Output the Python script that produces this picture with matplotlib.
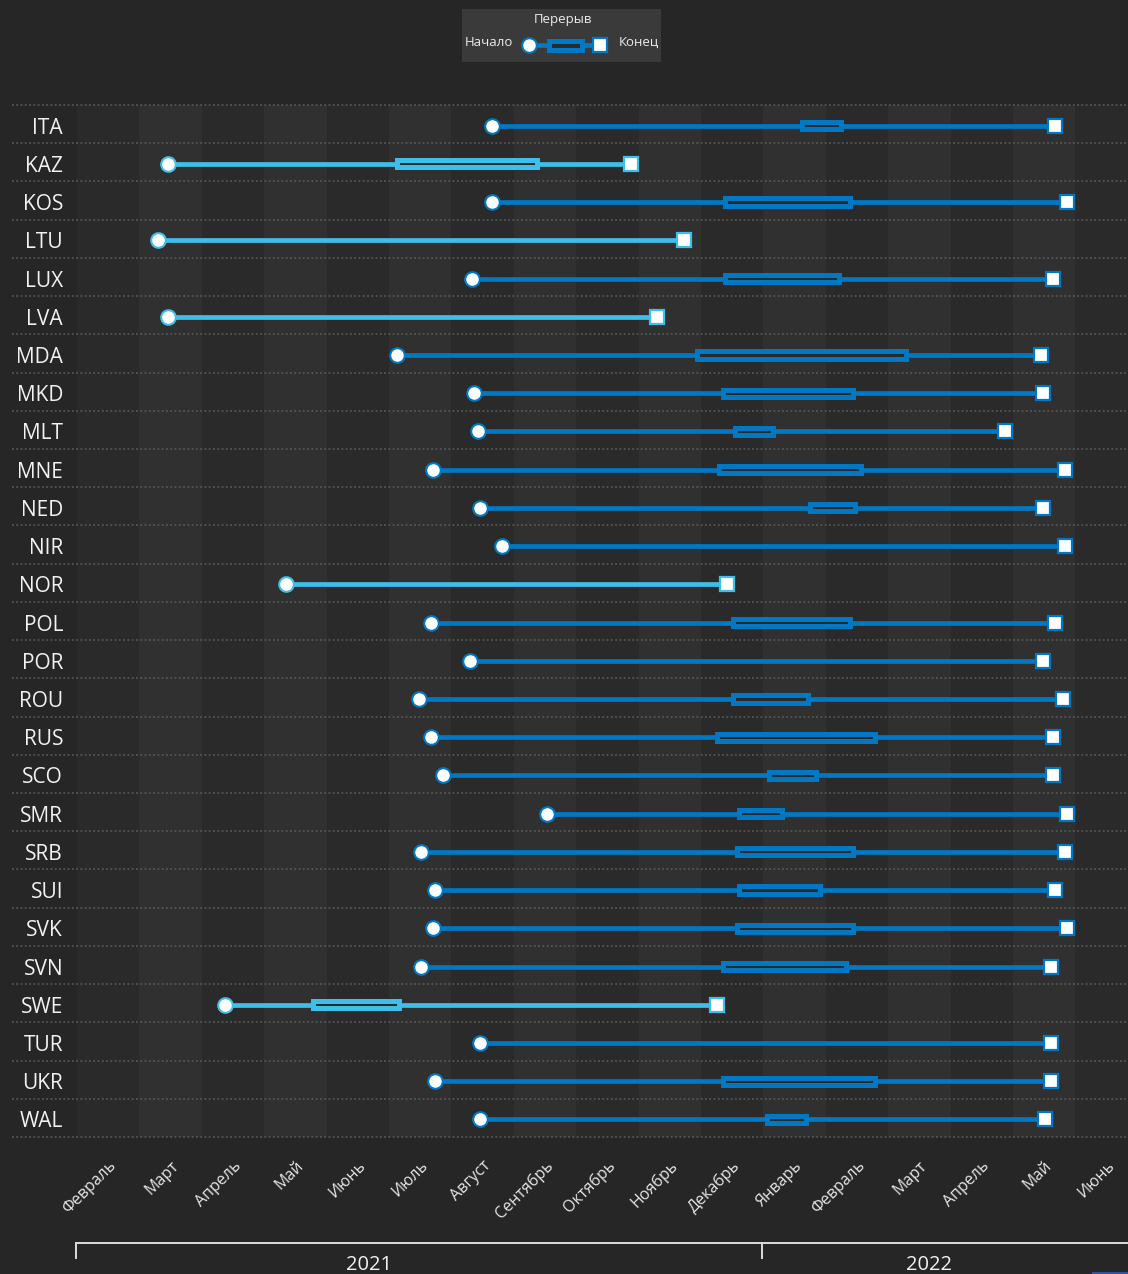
import matplotlib
matplotlib.use('Agg')
import matplotlib.pyplot as plt
from matplotlib.patches import Rectangle
from matplotlib.lines import Line2D
from matplotlib.transforms import blended_transform_factory
import pandas as pd

plt.rcParams['font.family'] = ['Open Sans', 'DejaVu Sans']

teams = ['ITA', 'KAZ', 'KOS', 'LTU', 'LUX', 'LVA', 'MDA', 'MKD', 'MLT', 'MNE', 'NED', 'NIR', 'NOR', 'POL',
         'POR', 'ROU', 'RUS', 'SCO', 'SMR', 'SRB', 'SUI', 'SVK', 'SVN', 'SWE', 'TUR', 'UKR', 'WAL']

season_start = ['2021-08-21', '2021-03-15', '2021-08-21', '2021-03-10', '2021-08-11', '2021-03-15', '2021-07-05',
                '2021-08-12', '2021-08-14', '2021-07-23', '2021-08-15', '2021-08-26', '2021-05-12', '2021-07-22',
                '2021-08-10', '2021-07-16', '2021-07-22', '2021-07-28', '2021-09-17', '2021-07-17', '2021-07-24',
                '2021-07-23', '2021-07-17', '2021-04-12', '2021-08-15', '2021-07-24', '2021-08-15']

season_end = ['2022-05-22', '2021-10-28', '2022-05-28', '2021-11-23', '2022-05-21', '2021-11-10', '2022-05-15',
              '2022-05-16', '2022-04-27', '2022-05-27', '2022-05-16', '2022-05-27', '2021-12-14', '2022-05-22',
              '2022-05-16', '2022-05-26', '2022-05-21', '2022-05-21', '2022-05-28', '2022-05-27', '2022-05-22',
              '2022-05-28', '2022-05-20', '2021-12-09', '2022-05-20', '2022-05-20', '2022-05-17']

break_start = ['2022-01-20', '2021-07-05', '2021-12-13', None, '2021-12-13', None, '2021-11-29',
               '2021-12-12', '2021-12-18', '2021-12-10', '2022-01-24', None, None, '2021-12-17',
               None, '2021-12-17', '2021-12-09', '2022-01-04', '2021-12-20', '2021-12-19', '2021-12-20',
               '2021-12-19', '2021-12-12', '2021-05-25', None, '2021-12-12', '2022-01-03']

break_end = ['2022-02-08', '2021-09-12', '2022-02-12', None, '2022-02-07', None, '2022-03-10',
             '2022-02-13', '2022-01-06', '2022-02-17', '2022-02-14', None, None, '2022-02-12',
             None, '2022-01-23', '2022-02-23', '2022-01-27', '2022-01-10', '2022-02-13', '2022-01-29',
             '2022-02-13', '2022-02-10', '2021-07-06', None, '2022-02-23', '2022-01-22']

months = ['Февраль', 'Март', 'Апрель', 'Май', 'Июнь', 'Июль', 'Август', 'Сентябрь', 'Октябрь', 'Ноябрь',
          'Декабрь', 'Январь', 'Февраль', 'Март', 'Апрель', 'Май', 'Июнь']
years = ['2021', '2022']
year_start_month = [0, 11]
year_label_pos = [4.68, 13.65]

DARK = '#0078c4'
LIGHT = '#3dbfeb'
BG = '#262626'


def mpos(s):
    # position in months from 1 Feb 2021 (each month has equal width)
    t = pd.Timestamp(s)
    return (t.year - 2021) * 12 + t.month - 2 + (t.day - 1) / t.days_in_month


W, H = 1128, 1274
fig = plt.figure(figsize=(W / 100, H / 100), dpi=100, facecolor=BG)
ax = fig.add_axes([77 / W, 1 - 1137 / H, 1 - 77 / W, (1137 - 105) / H])
ax.set_facecolor(BG)
for s in ax.spines.values():
    s.set_visible(False)

# rows sit a little below the middle of their band
d = 0.04
xmax = (W - 77) / 62.4
ax.set_xlim(0, xmax)
ax.set_ylim(len(teams) - 0.5 - d, -0.5 - d)

# month bands
for k in range(len(months)):
    ax.axvspan(k, k + 1, color='#2a2a2a' if k % 2 == 0 else '#303030', lw=0, zorder=0)

# dotted row separators, running into the label area
tr = blended_transform_factory(fig.transFigure, ax.transData)
for i in range(len(teams) + 1):
    ax.plot([12 / W, 1], [i - 0.5 - d, i - 0.5 - d], transform=tr, color='#5c5c5c', lw=1.1,
            ls=(0, (1.2, 1.6)), clip_on=False, zorder=1)

for i, team in enumerate(teams):
    s = mpos(season_start[i])
    e = mpos(season_end[i])
    c = LIGHT if pd.Timestamp(season_end[i]).year == 2021 else DARK
    ax.plot([s, e], [i, i], color=c, lw=3.4, solid_capstyle='butt', zorder=3)
    if break_start[i] is not None:
        b0 = mpos(break_start[i])
        b1 = mpos(break_end[i])
        ax.add_patch(Rectangle((b0, i - 0.095), b1 - b0, 0.19, facecolor='#2a2a2a', edgecolor=c,
                               lw=3.6, zorder=4))
    ax.plot(s, i, 'o', ms=10.5, mfc='white', mec=c, mew=1.5, zorder=5)
    ax.plot(e, i, 's', ms=9.4, mfc='white', mec=c, mew=1.6, zorder=5)

ax.set_yticks(range(len(teams)))
ax.set_yticklabels(teams, fontsize=15, color='#f2f2f2')
ax.tick_params(axis='y', length=0, pad=10)

ax.set_xticks([k + 0.5 for k in range(len(months))])
ax.set_xticklabels(months, rotation=45, ha='right', va='top', rotation_mode='anchor',
                   fontsize=11.5, color='#e6e6e6')
ax.tick_params(axis='x', length=0, pad=15)

# year axis
ty = blended_transform_factory(ax.transData, fig.transFigure)
yl = 1 - 1243 / H
ax.plot([-0.02, xmax], [yl, yl], transform=ty, color='#dcdcdc', lw=1.4, clip_on=False)
for k in year_start_month:
    ax.plot([k - 0.02, k - 0.02], [yl, 1 - 1258 / H], transform=ty, color='#dcdcdc', lw=1.4,
            clip_on=False)
for lab, xp in zip(years, year_label_pos):
    ax.text(xp, 1 - 1265 / H, lab, transform=ty, ha='center', va='center', fontsize=14.5,
            color='#f2f2f2', clip_on=False)


# legend box (drawn in pixel positions of the figure)
def fx(x):
    return x / W


def fy(y):
    return 1 - y / H


fig.patches.append(Rectangle((fx(462), fy(62)), fx(661) - fx(462), fy(9) - fy(62),
                             transform=fig.transFigure, facecolor='#3a3a3a', edgecolor='none', zorder=0))
fig.text(fx(563), fy(19), 'Перерыв', ha='center', va='center', fontsize=9.5, color='#ececec')
fig.text(fx(513), fy(42), 'Начало', ha='right', va='center', fontsize=9.5, color='#ececec')
fig.text(fx(619), fy(42), 'Конец', ha='left', va='center', fontsize=9.5, color='#ececec')
fig.lines.append(Line2D([fx(529), fx(600)], [fy(45), fy(45)], transform=fig.transFigure,
                        color=DARK, lw=3.4, solid_capstyle='butt', zorder=2))
fig.patches.append(Rectangle((fx(548.5), fy(49.5)), fx(581.5) - fx(548.5), fy(40.5) - fy(49.5),
                             transform=fig.transFigure, facecolor='#2a2a2a', edgecolor=DARK, lw=3.6,
                             zorder=3))
fig.lines.append(Line2D([fx(529)], [fy(45)], transform=fig.transFigure, marker='o', ms=10.5,
                        mfc='white', mec=DARK, mew=1.5, ls='none', zorder=4))
fig.lines.append(Line2D([fx(600)], [fy(45)], transform=fig.transFigure, marker='s', ms=9.4,
                        mfc='white', mec=DARK, mew=1.6, ls='none', zorder=4))

# small scrollbar stub at bottom right
fig.patches.append(Rectangle((fx(1092), 0), fx(1128) - fx(1092), 2.5 / H,
                             transform=fig.transFigure, facecolor='#2f5596', edgecolor='none'))

fig.savefig('out.png', dpi=100, facecolor=BG)
